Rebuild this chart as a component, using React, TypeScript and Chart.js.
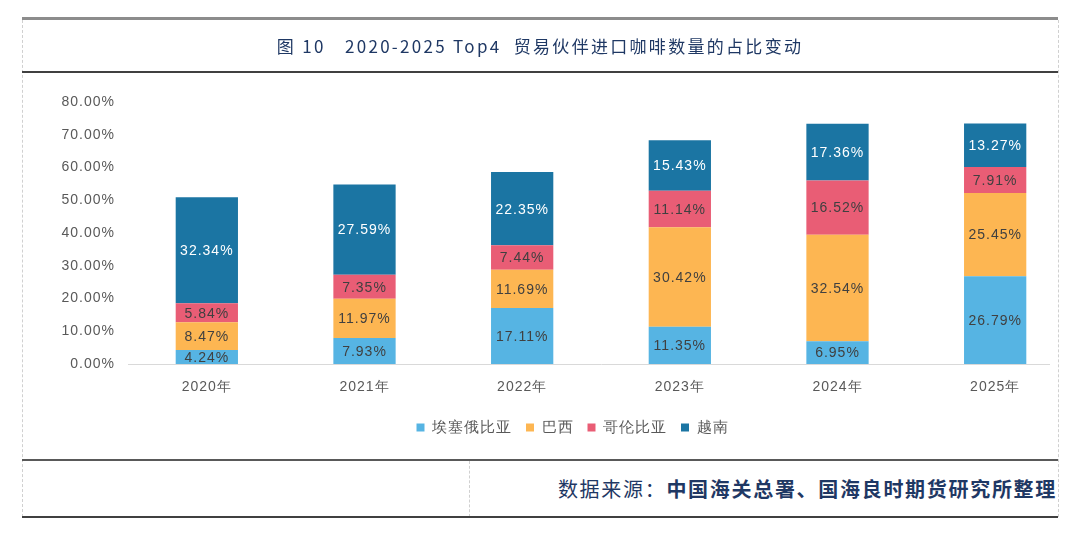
import React, { useEffect, useRef } from "react";
import { Chart, registerables } from "chart.js";

Chart.register(...registerables);

const categories = ["2020年", "2021年", "2022年", "2023年", "2024年", "2025年"];
const seriesNames = ["埃塞俄比亚", "巴西", "哥伦比亚", "越南"];
const ethiopia = [4.24, 7.93, 17.11, 11.35, 6.95, 26.79];
const brazil = [8.47, 11.97, 11.69, 30.42, 32.54, 25.45];
const colombia = [5.84, 7.35, 7.44, 11.14, 16.52, 7.91];
const vietnam = [32.34, 27.59, 22.35, 15.43, 17.36, 13.27];
const seriesColors = ["#56b4e3", "#fdb652", "#e95d75", "#1b75a3"];
const labelColors = ["#404040", "#404040", "#404040", "#ffffff"];
const titleText = "图 10　2020-2025 Top4  贸易伙伴进口咖啡数量的占比变动";
const sourceLabel = "数据来源：";
const sourceText = "中国海关总署、国海良时期货研究所整理";

const FONT = "'Liberation Sans', Arial, sans-serif";

const spacing = {
  id: "spacing",
  beforeDraw(chart: any) {
    (chart.ctx as any).letterSpacing = "1px";
  },
  afterDraw(chart: any) {
    (chart.ctx as any).letterSpacing = "0px";
  },
};

const valueLabels = {
  id: "valueLabels",
  afterDatasetsDraw(chart: any) {
    const ctx = chart.ctx;
    ctx.save();
    ctx.font = `14px ${FONT}`;
    ctx.textAlign = "center";
    ctx.textBaseline = "middle";
    chart.data.datasets.forEach((ds: any, i: number) => {
      const meta = chart.getDatasetMeta(i);
      meta.data.forEach((bar: any, j: number) => {
        const v = ds.data[j];
        const y = (bar.y + bar.base) / 2;
        ctx.fillStyle = labelColors[i];
        ctx.fillText(v.toFixed(2) + "%", bar.x, y + 1);
      });
    });
    ctx.restore();
  },
};

export default function App() {
  const ref = useRef<HTMLCanvasElement>(null);
  useEffect(() => {
    const data = [ethiopia, brazil, colombia, vietnam];
    const chart = new Chart(ref.current!, {
      type: "bar",
      data: {
        labels: categories,
        datasets: data.map((d, i) => ({
          label: seriesNames[i],
          data: d,
          backgroundColor: seriesColors[i],
          borderWidth: 0,
          categoryPercentage: 1,
          barPercentage: 0.395,
        })),
      },
      options: {
        animation: false,
        responsive: false,
        maintainAspectRatio: false,
        layout: { padding: { left: 36, right: 48, top: 22, bottom: 10 } },
        plugins: {
          tooltip: { enabled: false },
          legend: {
            position: "bottom",
            labels: {
              boxWidth: 8,
              boxHeight: 8,
              padding: 14,
              color: "#595959",
              font: { size: 15, family: FONT },
            },
          },
        },
        scales: {
          x: {
            stacked: true,
            grid: { display: false, drawTicks: false },
            border: { display: true, color: "#d9d9d9", width: 1 },
            ticks: { color: "#595959", font: { size: 14, family: FONT }, padding: 15 },
            afterFit: (s: any) => {
              s.height = 42;
            },
          },
          y: {
            stacked: true,
            min: 0,
            max: 80,
            grid: { display: false, drawTicks: false },
            border: { display: false },
            ticks: {
              stepSize: 10,
              color: "#595959",
              font: { size: 14, family: FONT },
              padding: 13,
              callback: (v: any) => Number(v).toFixed(2) + "%",
            },
            afterFit: (s: any) => {
              s.width = 70;
            },
          },
        },
      },
      plugins: [spacing, valueLabels],
    });
    return () => chart.destroy();
  }, []);

  const navy = "#1f3864";
  return (
    <div style={{ position: "fixed", left: 0, top: 0, width: 1080, height: 533, background: "#fff", overflow: "hidden" }}>
      <div style={{ position: "absolute", left: 22, top: 73, width: 1028, height: 385, overflow: "hidden" }}>
        <canvas ref={ref} width={1100} height={375} style={{ position: "absolute", left: 0, top: 7, width: 1100, height: 375 }} />
      </div>
      {/* frame */}
      <div style={{ position: "absolute", left: 22, top: 17, width: 1036, height: 3, background: "#8c8c8c" }} />
      <div style={{ position: "absolute", left: 22, top: 20, width: 0, height: 497, borderLeft: "1px dashed #d0d0d0" }} />
      <div style={{ position: "absolute", left: 1058, top: 20, width: 0, height: 497, borderLeft: "1px dashed #d0d0d0" }} />
      <div style={{ position: "absolute", left: 22, top: 71, width: 1036, height: 2, background: "#404040" }} />
      <div style={{ position: "absolute", left: 22, top: 459, width: 1036, height: 2, background: "#595959" }} />
      <div style={{ position: "absolute", left: 469, top: 461, width: 0, height: 56, borderLeft: "1px dashed #d0d0d0" }} />
      <div style={{ position: "absolute", left: 22, top: 516, width: 1036, height: 2, background: "#404040" }} />
      <div
        style={{
          position: "absolute",
          left: 22,
          top: 20,
          width: 1036,
          height: 51,
          display: "flex",
          alignItems: "center",
          justifyContent: "center",
          color: navy,
          fontSize: 17,
          letterSpacing: 2.3,
          fontFamily: "'Noto Sans CJK SC', sans-serif",
          whiteSpace: "pre",
        }}
      >
        {titleText}
      </div>
      <div
        style={{
          position: "absolute",
          left: 470,
          top: 461,
          width: 587,
          height: 55,
          display: "flex",
          alignItems: "center",
          justifyContent: "flex-end",
          color: navy,
          fontSize: 20,
          letterSpacing: 1.7,
          fontFamily: "'Noto Sans CJK SC', sans-serif",
          whiteSpace: "pre",
        }}
      >
        <span>{sourceLabel}</span>
        <span style={{ fontWeight: 700 }}>{sourceText}</span>
      </div>
    </div>
  );
}
